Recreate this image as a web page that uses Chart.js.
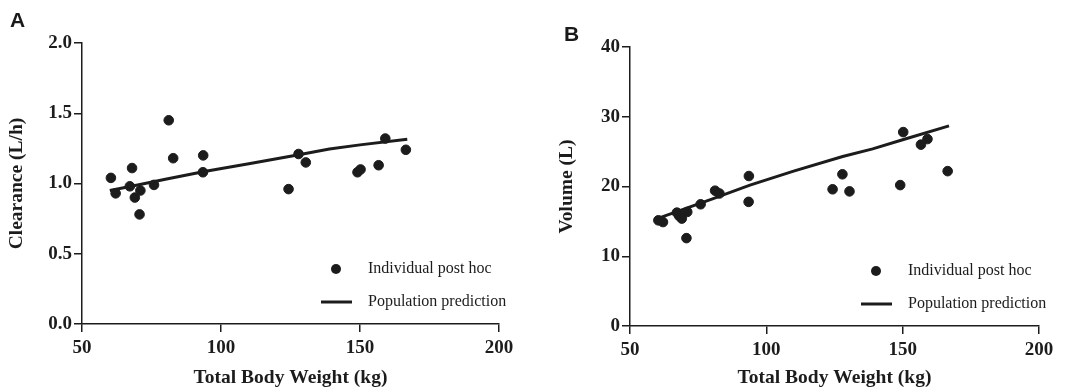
<!DOCTYPE html>
<html>
<head>
<meta charset="utf-8">
<script src="https://cdn.jsdelivr.net/npm/chart.js@4"></script>
<style>
  body { margin: 0; background: #fff; }
  #wrap { position: relative; width: 1065px; height: 388px; }
  .panel { position: absolute; top: 0; height: 388px; }
  .letter { position: absolute; font: bold 21px "Liberation Sans", Arial, sans-serif; color: #1a1a1a; }
</style>
</head>
<body>
<div id="wrap">
  <div class="panel" style="left:0;width:530px"><canvas id="chartA"></canvas></div>
  <div class="panel" style="left:530px;width:535px"><canvas id="chartB"></canvas></div>
  <div class="letter" style="left:10px;top:8px">A</div>
  <div class="letter" style="left:564px;top:22px">B</div>
</div>
<script>
// subjects' total body weight (kg)
const weightKg = [60.4, 62.1, 67.2, 68.0, 69.0, 70.7, 71.0, 75.9, 81.2, 82.8, 93.6, 93.5, 124.3, 127.9, 130.5, 149.1, 150.2, 156.7, 159.1, 166.5];
// individual post hoc estimates
const clearance = [1.04, 0.93, 0.98, 1.11, 0.90, 0.78, 0.95, 0.99, 1.45, 1.18, 1.20, 1.08, 0.96, 1.21, 1.15, 1.08, 1.10, 1.13, 1.32, 1.24];
const volume = [15.15, 14.9, 16.25, 15.8, 15.4, 12.6, 16.35, 17.45, 19.4, 19.0, 21.5, 17.8, 19.6, 21.75, 19.3, 20.2, 27.8, 26.0, 26.8, 22.2];
// population prediction curve
const predWeightKg = [60, 70, 80, 94, 110, 128, 139, 150, 167];
const predClearance = [0.95, 0.99, 1.03, 1.085, 1.14, 1.205, 1.245, 1.275, 1.315];
const predVolume = [15.4, 16.8, 18.2, 20.2, 22.2, 24.3, 25.4, 26.7, 28.7];
const xTicks = [50, 100, 150, 200];

const ink = '#1c1c1c';
const serif = '"Liberation Serif", "Times New Roman", serif';
const tickFont = { family: serif, weight: 'bold', size: 19 };
const titleFont = { family: serif, weight: 'bold', size: 19.5, lineHeight: 1 };

const pairs = (xs, ys) => xs.map((x, i) => ({ x: x, y: ys[i] }));

// legend inside the plot, bottom right
const insideLegend = {
  id: 'insideLegend',
  afterDatasetsDraw(chart) {
    const { ctx, chartArea } = chart;
    const pts = chart.data.datasets[0], line = chart.data.datasets[1];
    const r = chartArea.right, b = chartArea.bottom;
    ctx.save();
    ctx.font = '16px ' + serif;
    ctx.fillStyle = ink;
    ctx.strokeStyle = ink;
    ctx.textBaseline = 'middle';
    ctx.beginPath();
    ctx.arc(r - 163, b - 55, 5, 0, Math.PI * 2);
    ctx.fill();
    ctx.fillText(pts.label, r - 131, b - 55);
    ctx.lineWidth = 3;
    ctx.beginPath();
    ctx.moveTo(r - 178, b - 22);
    ctx.lineTo(r - 147, b - 22);
    ctx.stroke();
    ctx.fillText(line.label, r - 131, b - 22);
    ctx.restore();
  }
};

function makePanel(id, yVals, predY, yMax, yStep, yDecimals, yTitle, pad, yWidth, xHeight) {
  return new Chart(document.getElementById(id), {
    type: 'scatter',
    data: {
      datasets: [{
        label: 'Individual post hoc',
        data: pairs(weightKg, yVals),
        backgroundColor: ink,
        borderColor: ink,
        pointRadius: 4.8,
        pointHoverRadius: 4.8
      }, {
        label: 'Population prediction',
        data: pairs(predWeightKg, predY),
        showLine: true,
        borderColor: ink,
        borderWidth: 3,
        pointRadius: 0,
        fill: false
      }]
    },
    options: {
      responsive: true,
      maintainAspectRatio: false,
      animation: false,
      layout: { padding: pad },
      plugins: { legend: { display: false }, tooltip: { enabled: false } },
      scales: {
        x: {
          type: 'linear',
          min: 50, max: 200,
          afterBuildTicks: s => { s.ticks = xTicks.map(v => ({ value: v })); },
          afterFit: s => { s.height = xHeight; },
          ticks: { color: ink, font: tickFont, padding: 5, maxRotation: 0 },
          grid: { drawOnChartArea: false, drawTicks: true, tickLength: 8, color: ink, lineWidth: 1.5 },
          border: { color: ink, width: 1.5 },
          title: { display: true, text: 'Total Body Weight (kg)', color: ink, font: titleFont, padding: { top: 0, bottom: 0 } }
        },
        y: {
          min: 0, max: yMax,
          afterFit: s => { s.width = yWidth; },
          ticks: { stepSize: yStep, color: ink, font: tickFont, padding: 2, callback: v => v.toFixed(yDecimals) },
          grid: { drawOnChartArea: false, drawTicks: true, tickLength: 8, color: ink, lineWidth: 1.5 },
          border: { color: ink, width: 1.5 },
          title: { display: true, text: yTitle, color: ink, font: titleFont, padding: { top: 7, bottom: 0 } }
        }
      }
    },
    plugins: [insideLegend]
  });
}

makePanel('chartA', clearance, predClearance, 2, 0.5, 1, 'Clearance (L/h)', { left: 0, top: 43, right: 31, bottom: 0 }, 82, 64);
makePanel('chartB', volume, predVolume, 40, 10, 0, 'Volume (L)', { left: 20, top: 47, right: 26, bottom: 0 }, 80, 62);
</script>
</body>
</html>
